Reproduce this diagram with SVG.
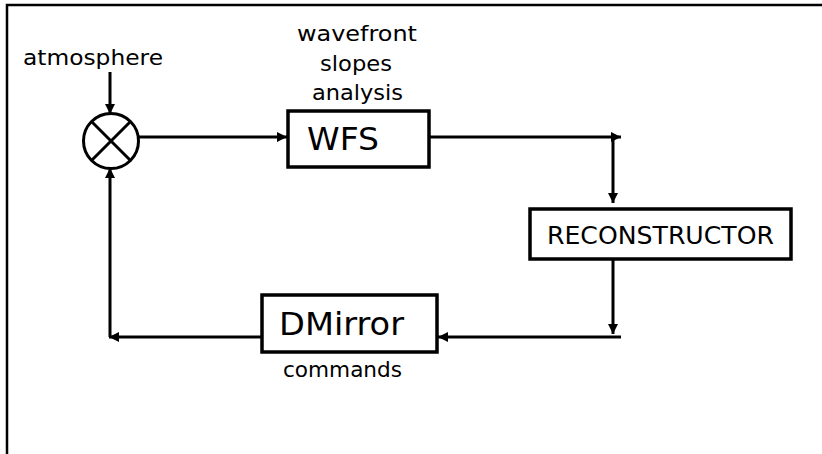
<svg xmlns="http://www.w3.org/2000/svg" width="822" height="454" viewBox="0 0 822 454">
<style>
.ln{stroke:#000;stroke-width:3;fill:none}
.box{stroke:#000;stroke-width:3.5;fill:#fff}
.t{font-family:"DejaVu Sans","Liberation Sans",sans-serif;fill:#000}
</style>
<defs>
<marker id="ah" viewBox="0 0 10 10" refX="10" refY="5" markerWidth="12" markerHeight="10" markerUnits="userSpaceOnUse" orient="auto">
<path d="M0,0 L10,5 L0,10 z" fill="#000"/>
</marker>
</defs>
<rect width="822" height="454" fill="#fff"/>
<path d="M7,454 V5 H822" stroke="#000" stroke-width="2.5" fill="none"/>
<g id="connectors">
<line class="ln" x1="110" y1="72" x2="110" y2="114" marker-end="url(#ah)"/>
<line class="ln" x1="139" y1="137" x2="287" y2="137" marker-end="url(#ah)"/>
<line class="ln" x1="429" y1="137" x2="621" y2="137" marker-end="url(#ah)"/>
<line class="ln" x1="613" y1="137" x2="613" y2="203" marker-end="url(#ah)"/>
<line class="ln" x1="613" y1="259" x2="613" y2="334" marker-end="url(#ah)"/>
<line class="ln" x1="621" y1="337" x2="438" y2="337" marker-end="url(#ah)"/>
<line class="ln" x1="262" y1="337" x2="109" y2="337" marker-end="url(#ah)"/>
<line class="ln" x1="110" y1="337" x2="110" y2="168" marker-end="url(#ah)"/>
</g>
<g id="atmosphere">
<text class="t" x="23" y="65" font-size="22" textLength="140" lengthAdjust="spacingAndGlyphs">atmosphere</text>
</g>
<g id="sum">
<circle cx="111" cy="141" r="27.5" class="ln" stroke-width="2.5"/>
<path d="M91.5,121.5 L130.5,160.5 M130.5,121.5 L91.5,160.5" class="ln" stroke-width="2.5"/>
</g>
<g id="wfs">
<text class="t" font-size="21" x="297" y="41" textLength="120" lengthAdjust="spacingAndGlyphs">wavefront</text>
<text class="t" font-size="21" x="320" y="71" textLength="72" lengthAdjust="spacingAndGlyphs">slopes</text>
<text class="t" font-size="21" x="312" y="100" textLength="91" lengthAdjust="spacingAndGlyphs">analysis</text>
<rect class="box" x="288" y="111" width="141" height="56"/>
<text class="t" x="307" y="150" font-size="32" textLength="72" lengthAdjust="spacingAndGlyphs">WFS</text>
</g>
<g id="reconstructor">
<rect class="box" x="530" y="209" width="261" height="50"/>
<text class="t" x="547" y="244" font-size="25" textLength="227" lengthAdjust="spacingAndGlyphs">RECONSTRUCTOR</text>
</g>
<g id="dmirror">
<rect class="box" x="262" y="295" width="175" height="57"/>
<text class="t" x="279" y="335" font-size="32" textLength="125" lengthAdjust="spacingAndGlyphs">DMirror</text>
<text class="t" x="283" y="377" font-size="21" textLength="119" lengthAdjust="spacingAndGlyphs">commands</text>
</g>
</svg>
